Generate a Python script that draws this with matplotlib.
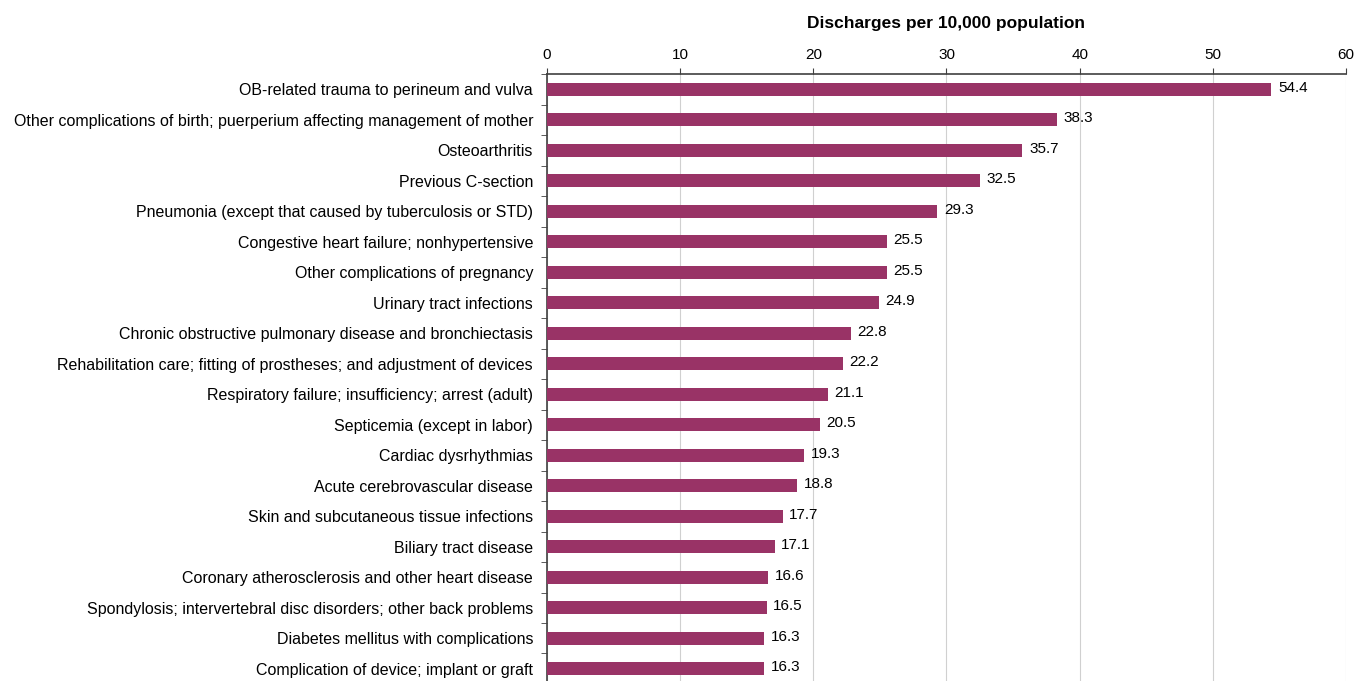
import matplotlib
matplotlib.use("Agg")
import matplotlib.pyplot as plt
import numpy as np

CATEGORIES = [
    "OB-related trauma to perineum and vulva",
    "Other complications of birth; puerperium affecting management of mother",
    "Osteoarthritis",
    "Previous C-section",
    "Pneumonia (except that caused by tuberculosis or STD)",
    "Congestive heart failure; nonhypertensive",
    "Other complications of pregnancy",
    "Urinary tract infections",
    "Chronic obstructive pulmonary disease and bronchiectasis",
    "Rehabilitation care; fitting of prostheses; and adjustment of devices",
    "Respiratory failure; insufficiency; arrest (adult)",
    "Septicemia (except in labor)",
    "Cardiac dysrhythmias",
    "Acute cerebrovascular disease",
    "Skin and subcutaneous tissue infections",
    "Biliary tract disease",
    "Coronary atherosclerosis and other heart disease",
    "Spondylosis; intervertebral disc disorders; other back problems",
    "Diabetes mellitus with complications",
    "Complication of device; implant or graft",
]
VALUES = [54.4, 38.3, 35.7, 32.5, 29.3, 25.5, 25.5, 24.9, 22.8, 22.2,
          21.1, 20.5, 19.3, 18.8, 17.7, 17.1, 16.6, 16.5, 16.3, 16.3]
X_TICKS = [0, 10, 20, 30, 40, 50, 60]

BAR_COLOR = "#993366"

plt.rcParams["font.family"] = ["Liberation Sans", "DejaVu Sans"]

fig = plt.figure(figsize=(13.59, 6.81), dpi=100)
ax = fig.add_axes([0.4025, -0.0044, 0.5879, 0.8957])

y = np.arange(len(CATEGORIES))
ax.barh(y, VALUES, height=0.43, color=BAR_COLOR, zorder=3)

for yi, v in zip(y, VALUES):
    ax.text(v + 0.5, yi - 0.05, f"{v:.1f}", va="center", ha="left", fontsize=11, color="black")

ax.set_ylim(len(CATEGORIES) - 0.5, -0.5)
ax.set_xlim(0, 60)
ax.set_yticks(y)
ax.set_yticklabels(CATEGORIES, fontsize=11.5)
ax.set_yticks(np.arange(-0.5, len(CATEGORIES), 1), minor=True)
ax.tick_params(axis="y", which="major", length=0, pad=10)
ax.tick_params(axis="y", which="minor", length=4, direction="out", color="#404040")

ax.xaxis.tick_top()
ax.xaxis.set_label_position("top")
ax.set_xticks(X_TICKS)
ax.tick_params(axis="x", length=4, direction="out", labelsize=11, pad=5, color="#404040")
ax.set_xlabel("Discharges per 10,000 population", fontsize=12.5, fontweight="bold", labelpad=14)

ax.grid(axis="x", color="#d0d0d0", linewidth=0.8, zorder=0)
for side in ["right", "bottom"]:
    ax.spines[side].set_visible(False)
for side in ["top", "left"]:
    ax.spines[side].set_color("#404040")
    ax.spines[side].set_linewidth(1.2)

fig.savefig("out.png", dpi=100)
